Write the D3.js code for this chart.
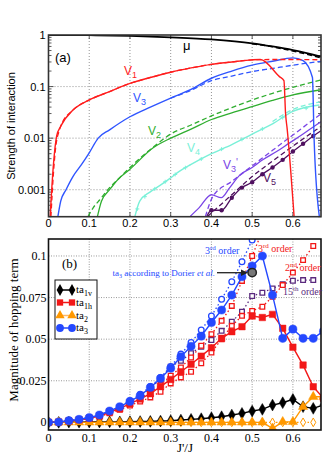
<!DOCTYPE html>
<html><head><meta charset="utf-8">
<script src="https://cdn.jsdelivr.net/npm/d3@7"></script>
<style>body{margin:0;background:#fff}</style>
</head><body><svg id="c" width="332" height="470"></svg>
<script>
// ---------- panel (a) data ----------
const xTicksA = [0,0.1,0.2,0.3,0.4,0.5,0.6];
const xTickLabelsA = ["0","0.1","0.2","0.3","0.4","0.5","0.6"];
const yTicksA = [1,0.1,0.01,0.001];
const yTickLabelsA = ["1","0.1","0.01","0.001"];
const muSolid = [[0,1],[0.1,0.99],[0.2,0.96],[0.3,0.9],[0.4,0.82],[0.5,0.69],[0.55,0.6],[0.6,0.51],[0.67,0.38]];
const muDashed = [[0.5,0.68],[0.55,0.59],[0.6,0.49],[0.67,0.36]];
const v1Solid = [[0.004,0.0003],[0.012,0.003],[0.02,0.011],[0.03,0.017],[0.06,0.035],[0.1,0.055],[0.15,0.08],[0.2,0.115],[0.25,0.15],[0.3,0.19],[0.35,0.23],[0.4,0.27],[0.45,0.3],[0.5,0.33],[0.52,0.335],[0.567,0.156],[0.578,0.13],[0.582,0.03],[0.586,0.015],[0.603,0.0003]];
const v1Dashed = [[0.006,0.0003],[0.012,0.002],[0.018,0.007],[0.025,0.013],[0.03,0.017],[0.06,0.035],[0.1,0.055],[0.15,0.08],[0.2,0.115],[0.25,0.15],[0.3,0.19],[0.35,0.23],[0.4,0.27],[0.45,0.3],[0.5,0.33],[0.55,0.335],[0.6,0.335],[0.67,0.33]];
const v3Solid = [[0.023,0.0003],[0.03,0.0006],[0.043,0.001],[0.06,0.0018],[0.08,0.003],[0.1,0.0052],[0.122,0.01],[0.15,0.0145],[0.2,0.026],[0.25,0.04],[0.3,0.06],[0.35,0.088],[0.4,0.145],[0.45,0.2],[0.5,0.26],[0.55,0.31],[0.6,0.36],[0.625,0.32],[0.648,0.15],[0.652,0.01],[0.665,0.0003]];
const v3Dashed = [[0.3,0.06],[0.35,0.085],[0.4,0.13],[0.45,0.16],[0.5,0.195],[0.55,0.225],[0.6,0.26],[0.67,0.31]];
const v2Solid = [[0.12,0.0003],[0.13,0.0006],[0.15,0.001],[0.171,0.0016],[0.2,0.0025],[0.257,0.0065],[0.3,0.01],[0.35,0.015],[0.4,0.023],[0.45,0.031],[0.5,0.041],[0.55,0.054],[0.6,0.069],[0.67,0.087]];
const v2Dashed = [[0.097,0.0003],[0.11,0.00045],[0.126,0.00064],[0.15,0.0011],[0.171,0.0016],[0.2,0.0027],[0.265,0.0075],[0.3,0.012],[0.35,0.018],[0.4,0.027],[0.45,0.039],[0.5,0.055],[0.55,0.074],[0.6,0.097],[0.67,0.135]];
const v4Solid = [[0.212,0.0003],[0.224,0.0006],[0.249,0.0009],[0.273,0.0012],[0.3,0.0017],[0.322,0.0023],[0.35,0.0031],[0.4,0.005],[0.45,0.0075],[0.5,0.012],[0.55,0.019],[0.6,0.033],[0.665,0.044]];
const v4Dashed = [[0.55,0.021],[0.6,0.036],[0.665,0.05]];
const v3pSolid = [[0.347,0.0003],[0.37,0.00045],[0.4,0.0008],[0.424,0.0007],[0.445,0.0011],[0.469,0.0019],[0.5,0.0027],[0.526,0.0038],[0.56,0.0055],[0.592,0.0081],[0.625,0.012],[0.657,0.018],[0.67,0.021]];
const v3pDashed = [[0.385,0.0003],[0.404,0.00075],[0.45,0.00145],[0.5,0.0029],[0.55,0.0058],[0.6,0.0115],[0.67,0.03]];
const v5Solid = [[0.388,0.0003],[0.4,0.0004],[0.425,0.0004],[0.45,0.0007],[0.475,0.0011],[0.5,0.0014],[0.525,0.002],[0.55,0.0027],[0.575,0.0038],[0.6,0.0055],[0.625,0.0078],[0.65,0.011],[0.675,0.015]];
const v5Dashed = [[0.39,0.0003],[0.45,0.0008],[0.5,0.0018],[0.55,0.0036],[0.6,0.007],[0.657,0.0145],[0.67,0.017]];

// ---------- panel (b) data ----------
const xTicksB = [0,0.1,0.2,0.3,0.4,0.5,0.6];
const xTickLabelsB = ["0","0.1","0.2","0.3","0.4","0.5","0.6"];
const yTicksB = [0,0.025,0.05,0.075,0.1];
const yTickLabelsB = ["0","0.025","0.05","0.075","0.1"];
const bX = [0,0.025,0.05,0.075,0.1,0.125,0.15,0.175,0.2,0.225,0.25,0.275,0.3,0.325,0.35,0.375,0.4,0.425,0.45,0.475,0.5,0.525,0.55,0.575,0.6,0.625,0.65,0.675];
const ta1v = [0,0,0.0001,0.0001,0.0002,0.0002,0.0003,0.0003,0.0004,0.0005,0.0006,0.0008,0.001,0.0014,0.0018,0.0022,0.0028,0.0034,0.0044,0.0054,0.0068,0.0078,0.0104,0.0118,0.0138,0.0094,0.0084,0.0105];
const ta1h = [0,0.0002,0.0008,0.0015,0.0025,0.0038,0.0062,0.0082,0.0112,0.014,0.0172,0.0215,0.0258,0.0304,0.0349,0.0398,0.0448,0.0505,0.0545,0.0575,0.0639,0.063,0.0649,0.0565,0.0452,0.0344,0.0214,0.0145];
const ta2 = [0,0,0,0,0,0,0,0,0,0,0,0,0,0,0,0,0,0,0,0,0,0,-0.0036,0.0003,0.0003,0.0094,0.0154,0.0154];
const ta3 = [0,0.0002,0.001,0.0018,0.0028,0.0044,0.0068,0.0094,0.0126,0.016,0.021,0.0264,0.0325,0.0394,0.0457,0.0518,0.06,0.0675,0.0765,0.0875,0.094,0.1,0.0765,0.0505,0.056,0.0505,0.0505,0.0548];
const ta2Pert = [0,0,0,0,0,0,0,0,0,0,0,0,0,0,0,0,0,0,0,0,0,0,0,0,0,0,0,null];
const ta3Order3 = [0,0.0002,0.001,0.0018,0.0028,0.0044,0.0068,0.0095,0.013,0.0168,0.0215,0.027,0.0335,0.041,0.048,0.0555,0.0639,0.074,0.0845,0.0965,0.1096,null,null,null,null,null,null,null];
const ta1hOrder3 = [0,0.0002,0.0008,0.0015,0.0025,0.0039,0.0062,0.0083,0.0114,0.0145,0.018,0.0225,0.028,0.033,0.039,0.046,0.053,0.061,0.07,0.085,0.1,0.115,null,null,null,null,null,null];
const ta1hOrder2 = [0,0.0002,0.0007,0.0014,0.0023,0.0035,0.0055,0.0075,0.0101,0.0125,0.015,0.0184,0.0234,0.027,0.0304,0.0355,0.042,0.05,0.058,0.064,0.067,0.0695,0.0755,0.0825,0.09,0.0975,0.106,null];
const ta1hOrder15 = [0,0.0002,0.001,0.0018,0.0028,0.0043,0.0066,0.009,0.0122,0.016,0.0205,0.026,0.0334,0.037,0.0415,0.0455,0.0495,0.055,0.0605,0.0665,0.0759,0.0779,0.0805,0.083,0.0851,0.0855,0.0855,null];
const dorierPoint = [[0.5,0.09]];

// ---------- drawing ----------
const svg = d3.select("#c");
const SANS = "Liberation Sans, Arial, sans-serif";
const SERIF = "Liberation Serif, Times New Roman, serif";
const L = 48.5, R = 321;

// ===== Panel (a) =====
const xA = d3.scaleLinear().domain([0,0.669]).range([L,R]);
const yA = d3.scaleLog().domain([0.0003,1]).range([216.7,35]);
const gA = svg.append("g");
svg.append("clipPath").attr("id","clipA").append("rect").attr("x",L).attr("y",35).attr("width",R-L).attr("height",216.7-35);

gA.selectAll(".gx").data(xTicksA.slice(1)).enter().append("line")
  .attr("x1",d=>xA(d)).attr("x2",d=>xA(d)).attr("y1",35).attr("y2",216.7)
  .attr("stroke","#888").attr("stroke-width",0.9).attr("stroke-dasharray","1,2");
gA.selectAll(".gy").data(yTicksA.slice(1)).enter().append("line")
  .attr("y1",d=>yA(d)).attr("y2",d=>yA(d)).attr("x1",L).attr("x2",R)
  .attr("stroke","#888").attr("stroke-width",0.9).attr("stroke-dasharray","1,2");

const minorA = [];
[0.0001,0.001,0.01,0.1].forEach(dec=>{for(let k=1;k<=9;k++){const v=k*dec; if(v>=0.0003&&v<=1) minorA.push(v);}});
minorA.forEach(v=>{
  const major = yTicksA.includes(v);
  const len = major?5:3;
  gA.append("line").attr("x1",L).attr("x2",L+len).attr("y1",yA(v)).attr("y2",yA(v)).attr("stroke","#333").attr("stroke-width",0.8);
  gA.append("line").attr("x1",R).attr("x2",R-len).attr("y1",yA(v)).attr("y2",yA(v)).attr("stroke","#333").attr("stroke-width",0.8);
});
xTicksA.forEach(v=>{
  gA.append("line").attr("x1",xA(v)).attr("x2",xA(v)).attr("y1",216.7).attr("y2",212).attr("stroke","#333").attr("stroke-width",0.8);
  gA.append("line").attr("x1",xA(v)).attr("x2",xA(v)).attr("y1",35).attr("y2",39).attr("stroke","#333").attr("stroke-width",0.8);
});

const lineA = d3.line().x(d=>xA(d[0])).y(d=>yA(d[1])).curve(d3.curveMonotoneX);
const plotA = gA.append("g").attr("clip-path","url(#clipA)");
function drawA(data,color,dash,w){
  plotA.append("path").attr("d",lineA(data)).attr("fill","none").attr("stroke",color)
    .attr("stroke-width",w||1.3).attr("stroke-dasharray",dash||null);
}
const RED="#ff1c1c", BLUE="#2f55ff", GREEN="#2fae2f", CYAN="#7af0d8", VIOLET="#7a45e6", PURPLE="#4f105f";
drawA(v5Dashed,PURPLE,"5,3");
drawA(v5Solid,PURPLE);
plotA.selectAll(".v5d").data(v5Solid.filter(d=>d[0]>=0.4)).enter().append("circle")
  .attr("cx",d=>xA(d[0])).attr("cy",d=>yA(d[1])).attr("r",2.2).attr("fill",PURPLE);
drawA(v3pDashed,VIOLET,"5,3");
drawA(v3pSolid,VIOLET);
drawA(v4Dashed,CYAN,"5,3");
drawA(v4Solid,CYAN,null,1.4);
v4Solid.forEach((d,i)=>{
  if(i===0) return;
  const p=v4Solid[i-1];
  [0.5].forEach(t=>{
    const xx=xA(p[0]+(d[0]-p[0])*t), yy=yA(Math.exp(Math.log(p[1])+(Math.log(d[1])-Math.log(p[1]))*t));
    plotA.append("path").attr("d",`M${xx-2},${yy}H${xx+2}M${xx},${yy-2}V${yy+2}`).attr("stroke",CYAN).attr("stroke-width",1);
  });
});
drawA(v2Dashed,GREEN,"5,3");
drawA(v2Solid,GREEN);
drawA(v3Dashed,BLUE,"5,3");
drawA(v3Solid,BLUE,null,1.4);
drawA(v1Dashed,RED,"5,3");
drawA(v1Solid,RED,null,1.4);
drawA(muDashed,"#000","5,3",1.6);
drawA(muSolid,"#000",null,1.8);

gA.append("rect").attr("x",L).attr("y",35).attr("width",R-L).attr("height",216.7-35)
  .attr("fill","none").attr("stroke","#333").attr("stroke-width",1.6);

gA.selectAll(".ytl").data(yTicksA).enter().append("text")
  .attr("x",L-3).attr("y",d=>yA(d)+4).attr("text-anchor","end")
  .attr("font-family",SANS).attr("font-size",11).text((d,i)=>yTickLabelsA[i]);
gA.selectAll(".xtl").data(xTicksA).enter().append("text")
  .attr("x",d=>xA(d)).attr("y",227).attr("text-anchor","middle")
  .attr("font-family",SANS).attr("font-size",11).text((d,i)=>xTickLabelsA[i]);
gA.append("text").attr("transform","translate(15,126) rotate(-90)").attr("text-anchor","middle")
  .attr("font-family",SANS).attr("font-size",11).text("Strength of interaction");
gA.append("text").attr("x",55).attr("y",62).attr("font-family",SANS).attr("font-size",13).text("(a)");
gA.append("text").attr("x",183).attr("y",50).attr("font-family",SANS).attr("font-size",13).text("μ");
function vLabel(x,y,sub,color,prime){
  const t=gA.append("text").attr("x",x).attr("y",y).attr("font-family",SANS).attr("font-size",12).attr("fill",color);
  t.append("tspan").text("V");
  t.append("tspan").attr("dy",3).attr("font-size",9).text(sub);
  if(prime) t.append("tspan").attr("dy",-6).attr("font-size",10).text("'");
}
vLabel(124,75,"1",RED);
vLabel(133,102,"3",BLUE);
vLabel(148,135,"2",GREEN);
vLabel(187,152,"4",CYAN);
vLabel(223,169,"3",VIOLET,true);
vLabel(263,182,"5",PURPLE);

// ===== Panel (b) =====
const xB = d3.scaleLinear().domain([0,0.669]).range([L,R]);
const yB = d3.scaleLinear().domain([-0.0046,0.1102]).range([430,239]);
const gB = svg.append("g");
svg.append("clipPath").attr("id","clipB").append("rect").attr("x",L).attr("y",239).attr("width",R-L).attr("height",430-239);

gB.selectAll(".gx").data(xTicksB.slice(1)).enter().append("line")
  .attr("x1",d=>xB(d)).attr("x2",d=>xB(d)).attr("y1",239).attr("y2",430)
  .attr("stroke","#999").attr("stroke-width",1).attr("stroke-dasharray","1,1.5");
gB.selectAll(".gy").data(yTicksB.slice(1)).enter().append("line")
  .attr("y1",d=>yB(d)).attr("y2",d=>yB(d)).attr("x1",L).attr("x2",R)
  .attr("stroke","#999").attr("stroke-width",1).attr("stroke-dasharray","1,1.5");

const plotB = gB.append("g").attr("clip-path","url(#clipB)");
function series(vals){return bX.map((x,i)=>[x,vals[i]]).filter(d=>d[1]!==null);}
const lineB = d3.line().x(d=>xB(d[0])).y(d=>yB(d[1]));
const ORANGE="#ff9800", BRED="#f21818", BBLUE="#2448ff", BPURP="#5a2a7e";
function drawB(vals,color,dash,w){
  plotB.append("path").attr("d",lineB(series(vals))).attr("fill","none").attr("stroke",color)
    .attr("stroke-width",w||1.4).attr("stroke-dasharray",dash||null);
}
const sym = {
  circle:d3.symbol().type(d3.symbolCircle),
  square:d3.symbol().type(d3.symbolSquare),
  diamond:d3.symbol().type(d3.symbolDiamond),
  triangle:d3.symbol().type(d3.symbolTriangle)
};
function marks(vals,type,size,fill,stroke,sw){
  plotB.selectAll(null).data(series(vals)).enter().append("path")
    .attr("d",sym[type].size(size)()).attr("transform",d=>`translate(${xB(d[0])},${yB(d[1])})`)
    .attr("fill",fill).attr("stroke",stroke).attr("stroke-width",sw||1);
}
drawB(ta2Pert,ORANGE,"1.5,2",1.2); marks(ta2Pert,"diamond",22,"#fff",ORANGE,1);
drawB(ta1hOrder15,BPURP,"1.5,2.5",1.3); marks(ta1hOrder15,"square",22,"#fff",BPURP,1.3);
drawB(ta1hOrder2,BRED,"1.5,2.5",1.3); marks(ta1hOrder2,"square",22,"#fff",BRED,1.3);
drawB(ta1hOrder3,BRED,"1.5,2.5",1.3); marks(ta1hOrder3,"square",22,"#fff",BRED,1.3);
drawB(ta3Order3,BBLUE,"1.5,2.5",1.3); marks(ta3Order3,"circle",26,"#fff",BBLUE,1.3);
drawB(ta1v,"#000",null,1.4); marks(ta1v,"diamond",40,"#000","#000",0.5);
drawB(ta2,ORANGE,null,1.4); marks(ta2,"triangle",38,ORANGE,ORANGE,0.5);
drawB(ta1h,BRED,null,1.4); marks(ta1h,"square",42,BRED,BRED,0.5);
drawB(ta3,BBLUE,null,1.4); marks(ta3,"circle",52,BBLUE,BBLUE,0.5);
plotB.selectAll(null).data(dorierPoint).enter().append("circle")
  .attr("cx",d=>xB(d[0])).attr("cy",d=>yB(d[1])).attr("r",4.2)
  .attr("fill","#777").attr("stroke","#222").attr("stroke-width",1.5);

gB.append("rect").attr("x",L).attr("y",239).attr("width",R-L).attr("height",430-239)
  .attr("fill","none").attr("stroke","#111").attr("stroke-width",1.6);

gB.selectAll(".ytl").data(yTicksB).enter().append("text")
  .attr("x",L-2).attr("y",d=>yB(d)+4).attr("text-anchor","end")
  .attr("font-family",SERIF).attr("font-size",12).text((d,i)=>yTickLabelsB[i]);
gB.selectAll(".xtl").data(xTicksB).enter().append("text")
  .attr("x",d=>xB(d)).attr("y",442).attr("text-anchor","middle")
  .attr("font-family",SERIF).attr("font-size",12).text((d,i)=>xTickLabelsB[i]);
gB.append("text").attr("transform","translate(18,330) rotate(-90)").attr("text-anchor","middle")
  .attr("font-family",SERIF).attr("font-size",13).text("Magnitude of hopping term");
gB.append("text").attr("x",185).attr("y",452).attr("text-anchor","middle")
  .attr("font-family",SERIF).attr("font-size",13).text("J'/J");
gB.append("text").attr("x",62).attr("y",268).attr("font-family",SERIF).attr("font-size",13).text("(b)");

function orderLabel(x,y,num,sup,color){
  const t=gB.append("text").attr("x",x).attr("y",y).attr("font-family",SERIF).attr("font-size",10).attr("fill",color);
  t.append("tspan").text(num);
  t.append("tspan").attr("dy",-4).attr("font-size",7).text(sup);
  t.append("tspan").attr("dy",4).text(" order");
}
orderLabel(205,254,"3","rd",BBLUE);
orderLabel(258,252,"3","rd",BRED);
orderLabel(285,271,"2","nd",BRED);
orderLabel(283,295,"15","th",BPURP);
const dt = gB.append("text").attr("x",215).attr("y",276).attr("text-anchor","end")
  .attr("font-family",SERIF).attr("font-size",9).attr("fill",BBLUE);
dt.append("tspan").text("ta");
dt.append("tspan").attr("dy",2).attr("font-size",6).text("3");
dt.append("tspan").attr("dy",-2).text(" according to Dorier ");
dt.append("tspan").attr("font-style","italic").text("et al.");
gB.append("line").attr("x1",217).attr("y1",272.7).attr("x2",244).attr("y2",272.7).attr("stroke","#222").attr("stroke-width",1.3);
gB.append("path").attr("d","M248,272.7 L241,269.5 L241,275.9 Z").attr("fill","#222");

const lg = gB.append("g");
lg.append("rect").attr("x",55).attr("y",280).attr("width",42).attr("height",59).attr("fill","#fff").attr("stroke","#111").attr("stroke-width",1);
const legendItems = [
  {name:"ta",sub:"1v",color:"#000",lineColor:"#000",type:"diamond",size:40},
  {name:"ta",sub:"1h",color:BRED,lineColor:BRED,type:"square",size:40},
  {name:"ta",sub:"2",color:ORANGE,lineColor:"#ffb866",type:"triangle",size:38},
  {name:"ta",sub:"3",color:BBLUE,lineColor:BBLUE,type:"circle",size:48}
];
const legYs = [290,302.5,315.5,328];
legendItems.forEach((it,i)=>{
  const y=legYs[i];
  lg.append("line").attr("x1",60).attr("x2",72).attr("y1",y).attr("y2",y).attr("stroke",it.lineColor).attr("stroke-width",1.5);
  [60,72].forEach(x=>lg.append("path").attr("d",sym[it.type].size(it.size)()).attr("transform",`translate(${x},${y})`).attr("fill",it.color));
  const t=lg.append("text").attr("x",76).attr("y",y+3).attr("font-family",SERIF).attr("font-size",11);
  t.append("tspan").text(it.name);
  t.append("tspan").attr("dy",3).attr("font-size",8).text(it.sub);
});
</script></body></html>
